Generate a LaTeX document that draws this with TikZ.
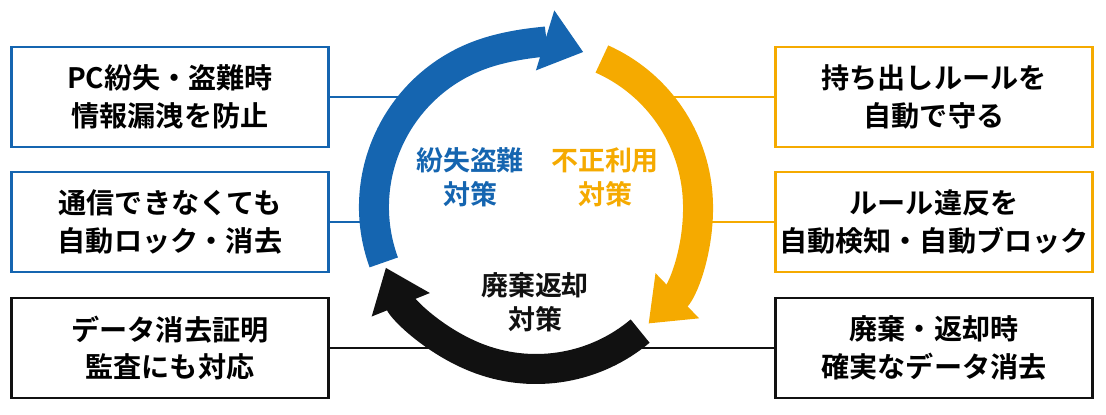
\documentclass[tikz,border=0pt]{standalone}
\usepackage{fontspec}
\setmainfont{Noto Sans CJK JP}[BoldFont={* Bold}]
\usetikzlibrary{arrows.meta, positioning, calc}
\definecolor{ringblue}{RGB}{21,101,176}
\definecolor{ringorange}{RGB}{245,170,0}
\definecolor{ringblack}{RGB}{17,17,17}
\tikzset{
  infobox/.style={rectangle, minimum width=9.5cm, minimum height=3cm, line width=2.5pt, fill=white, align=center, font=\bfseries\fontsize{24}{32}\selectfont, text=black},
  ring/.style={line width=0.9cm, -{Triangle[length=1.2cm, width=1.8cm]}},
  link/.style={line width=1pt},
  caption/.style={align=center, font=\bfseries\fontsize{23}{29}\selectfont}
}
\begin{document}
\begin{tikzpicture}[x=0.03cm, y=-0.03cm]
  \useasboundingbox (0,0) rectangle (1106,414);

  % thin links from the boxes to the ring
  \coordinate (ringL1) at (430,97);
  \coordinate (ringL2) at (375,222);
  \coordinate (ringL3) at (450,348);
  \coordinate (ringR1) at (640,97);
  \coordinate (ringR2) at (695,222);
  \coordinate (ringR3) at (620,348);

  % left boxes
  \node (lost) [infobox, draw=ringblue] at (170,97) {PC紛失・盗難時\\情報漏洩を防止};
  \node (lock) [infobox, draw=ringblue] at (170,222) {通信できなくても\\自動ロック・消去};
  \node (proof) [infobox, draw=ringblack] at (170,348) {データ消去証明\\監査にも対応};

  % right boxes
  \node (rule) [infobox, draw=ringorange] at (934,97) {持ち出しルールを\\自動で守る};
  \node (block) [infobox, draw=ringorange] at (934,222) {ルール違反を\\自動検知・自動ブロック};
  \node (erase) [infobox, draw=ringblack] at (934,348) {廃棄・返却時\\確実なデータ消去};

  \draw [link, ringblue] (lost) -- (ringL1);
  \draw [link, ringblue] (lock) -- (ringL2);
  \draw [link, ringblack] (proof) -- (ringL3);
  \draw [link, ringorange] (rule) -- (ringR1);
  \draw [link, ringorange] (block) -- (ringR2);
  \draw [link, ringblack] (erase) -- (ringR3);

  % ring of three arrows
  \coordinate (hub) at (536,207);
  \draw [ring, ringblue] ($(hub)+(200:162 and -162)$) arc[start angle=200, end angle=73, x radius=162, y radius=-162];
  \draw [ring, ringorange] ($(hub)+(66:162 and -162)$) arc[start angle=66, end angle=-46, x radius=162, y radius=-162];
  \draw [ring, ringblack] ($(hub)+(-50:162 and -162)$) arc[start angle=-50, end angle=-158, x radius=162, y radius=-162];

  % captions
  \node (capblue) [caption, text=ringblue] at (470,177) {紛失盗難\\対策};
  \node (caporange) [caption, text=ringorange] at (605,177) {不正利用\\対策};
  \node (capblack) [caption, text=ringblack] at (535,302) {廃棄返却\\対策};
\end{tikzpicture}
\end{document}
